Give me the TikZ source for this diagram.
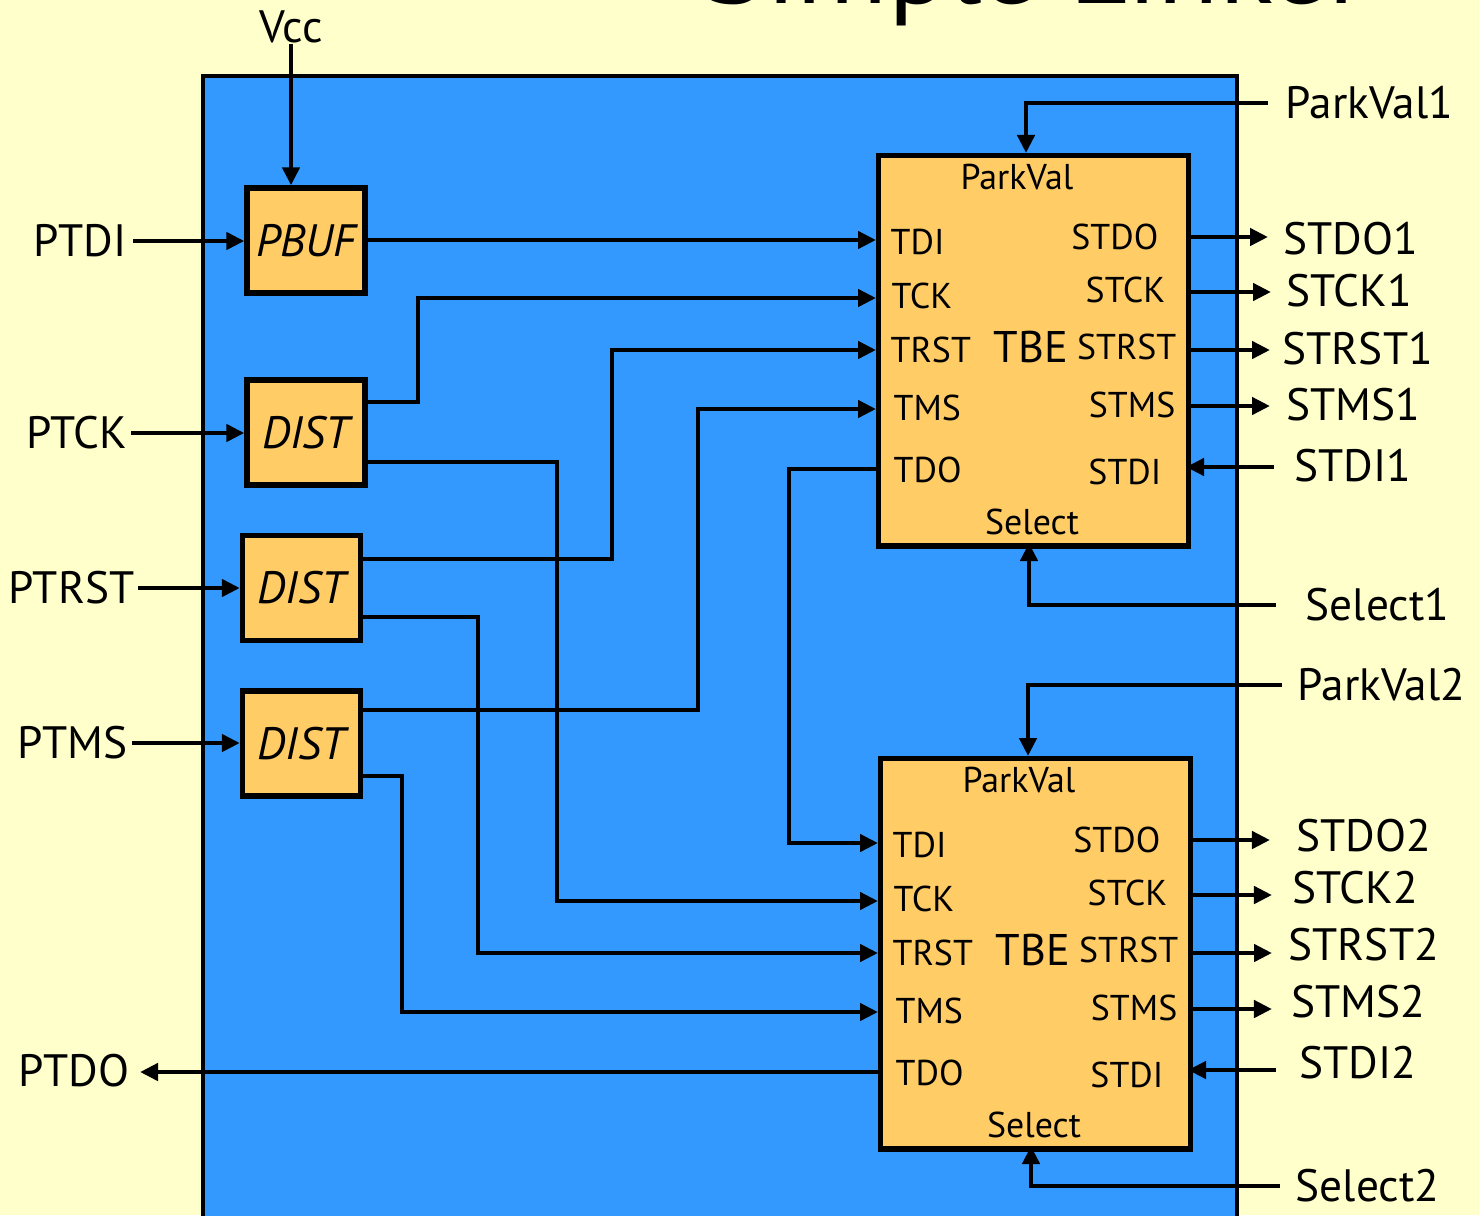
\documentclass[tikz,border=0pt]{standalone}
\usepackage{fontspec}
\setmainfont{PT Sans}
\usetikzlibrary{arrows.meta}
\definecolor{bgyel}{HTML}{FFFFCC}
\definecolor{chipblue}{HTML}{3399FF}
\definecolor{boxorg}{HTML}{FFCC66}
\newcommand{\lblfont}{\fontsize{12.9}{15}\selectfont}
\newcommand{\portfont}{\fontsize{10.2}{12}\selectfont}
\newcommand{\tbefont}{\fontsize{12.6}{15}\selectfont}
\newcommand{\ttlfont}{\fontsize{32}{38}\selectfont}
\tikzset{
  wire/.style={line width=1.25pt},
  wirearrow/.style={wire,-{Triangle[length=0.18cm,width=0.17cm]}},
  lbl/.style={font=\lblfont, inner sep=0pt},
  portlbl/.style={font=\portfont, inner sep=0pt},
  blk/.style={draw, fill=boxorg, line width=1.5pt, minimum width=1.18cm, minimum height=1.05cm, inner sep=0pt, font=\lblfont\itshape},
  tbebox/.style={draw, fill=boxorg, line width=1.5pt, minimum width=3.10cm, minimum height=3.90cm, inner sep=0pt},
  tbe/.pic={
    \node[tbebox, anchor=north west] (-box) at (0,0) {};
    \coordinate (-tdi) at (0,87);
    \coordinate (-tck) at (0,145);
    \coordinate (-trst) at (0,197);
    \coordinate (-tms) at (0,256);
    \coordinate (-tdo) at (0,316);
    \coordinate (-stdo) at (310,84);
    \coordinate (-stck) at (310,139);
    \coordinate (-strst) at (310,197);
    \coordinate (-stms) at (310,253);
    \coordinate (-stdi) at (310,314);
    \coordinate (-pv) at (150,0);
    \coordinate (-sel) at (153,390);
    \node[portlbl] (-lpv) at (141,24) {ParkVal};
    \node[portlbl, anchor=west] (-ltdi) at (14,89) {TDI};
    \node[portlbl, anchor=west] (-ltck) at (15,143) {TCK};
    \node[portlbl, anchor=west] (-ltrst) at (14,197) {TRST};
    \node[portlbl, anchor=west] (-ltms) at (17,255) {TMS};
    \node[portlbl, anchor=west] (-ltdo) at (17,317) {TDO};
    \node[portlbl, anchor=east] (-lstdo) at (283,84) {STDO};
    \node[portlbl, anchor=east] (-lstck) at (290,137) {STCK};
    \node[portlbl, anchor=east] (-lstrst) at (301,194) {STRST};
    \node[portlbl, anchor=east] (-lstms) at (300,252) {STMS};
    \node[portlbl, anchor=east] (-lstdi) at (286,319) {STDI};
    \node[portlbl] (-lsel) at (156,369) {Select};
    \node[font=\tbefont, inner sep=0pt] (-ltbe) at (155,194) {TBE};
  }
}
\begin{document}
\begin{tikzpicture}[x=0.01cm, y=-0.01cm]
\clip (0,0) rectangle (1479,1215);
\fill[bgyel] (0,0) rectangle (1479,1215);
\node[font=\ttlfont, anchor=base, inner sep=0pt] (title) at (1037,4) {Simple Linker};
\draw[fill=chipblue, line width=1.4pt] (203,76) rectangle (1237,1260);

% buffers
\node[blk] (pbuf) at (306,240.5) {PBUF};
\node[blk] (dist1) at (306,432.5) {DIST};
\node[blk] (dist2) at (301.5,588) {DIST};
\node[blk] (dist3) at (301.5,743.5) {DIST};

% TBE blocks
\pic (t1) at (876,153) {tbe};
\pic (t2) at (878,756) {tbe};

% left labels
\node[lbl] (vcc) at (291,27) {Vcc};
\node[lbl, anchor=east] (ptdi) at (127,241) {PTDI};
\node[lbl, anchor=east] (ptck) at (128,433) {PTCK};
\node[lbl, anchor=east] (ptrst) at (135,588) {PTRST};
\node[lbl, anchor=east] (ptms) at (128,743) {PTMS};
\node[lbl, anchor=east] (ptdo) at (130,1071) {PTDO};

% right labels
\node[lbl, anchor=west] (pv1) at (1285,103) {ParkVal1};
\node[lbl, anchor=west] (stdo1) at (1283,239) {STDO1};
\node[lbl, anchor=west] (stck1) at (1286,291) {STCK1};
\node[lbl, anchor=west] (strst1) at (1282,349) {STRST1};
\node[lbl, anchor=west] (stms1) at (1286,405) {STMS1};
\node[lbl, anchor=west] (stdi1) at (1294,466) {STDI1};
\node[lbl, anchor=west] (sel1) at (1305,605) {Select1};
\node[lbl, anchor=west] (pv2) at (1297,685) {ParkVal2};
\node[lbl, anchor=west] (stdo2) at (1296,836) {STDO2};
\node[lbl, anchor=west] (stck2) at (1292,888) {STCK2};
\node[lbl, anchor=west] (strst2) at (1288,945) {STRST2};
\node[lbl, anchor=west] (stms2) at (1291,1002) {STMS2};
\node[lbl, anchor=west] (stdi2) at (1299,1063) {STDI2};
\node[lbl, anchor=west] (sel2) at (1295,1186) {Select2};

% inputs
\draw[wirearrow] (vcc.south) -- (vcc.south |- pbuf.north);
\draw[wirearrow, shorten <=0.06cm] (ptdi.east) -- (ptdi.east -| pbuf.west);
\draw[wirearrow, shorten <=0.03cm] (ptck.east) -- (ptck.east -| dist1.west);
\draw[wirearrow, shorten <=0.03cm] (ptrst.east) -- (ptrst.east -| dist2.west);
\draw[wirearrow, shorten <=0.04cm] (ptms.east) -- (ptms.east -| dist3.west);

% internal wiring
\draw[wirearrow] (pbuf.east |- t1-tdi) -- (t1-tdi);
\draw[wirearrow] (dist1.east |- 0,402) -- (418,402) |- (t1-tck);
\draw[wirearrow] (dist1.east |- 0,462) -- (557,462) |- (t2-tck);
\draw[wirearrow] (dist2.east |- 0,559) -- (612,559) |- (t1-trst);
\draw[wirearrow] (dist2.east |- 0,617) -- (478,617) |- (t2-trst);
\draw[wirearrow] (dist3.east |- 0,710) -- (698,710) |- (t1-tms);
\draw[wirearrow] (dist3.east |- 0,776) -- (402,776) |- (t2-tms);
\draw[wirearrow] (t1-tdo) -- (t1-tdo -| 789,0) |- (t2-tdi);
\draw[wirearrow, shorten >=0.1cm] (t2-tdo) -- (t2-tdo -| ptdo.east);

% TBE1 outputs
\draw[wirearrow, shorten <=0.17cm] (pv1.west) -| (t1-pv);
\draw[wirearrow, shorten >=0.15cm] (t1-stdo) -- (t1-stdo -| stdo1.west);
\draw[wirearrow, shorten >=0.15cm] (t1-stck) -- (t1-stck -| stck1.west);
\draw[wirearrow, shorten >=0.12cm] (t1-strst) -- (t1-strst -| strst1.west);
\draw[wirearrow, shorten >=0.16cm] (t1-stms) -- (t1-stms -| stms1.west);
\draw[wirearrow, shorten <=0.20cm] (t1-stdi -| stdi1.west) -- (t1-stdi);
\draw[wirearrow, shorten <=0.29cm] (sel1.west) -| (t1-sel);

% TBE2 outputs
\draw[wirearrow, shorten <=0.15cm] (pv2.west) -| (t2-pv);
\draw[wirearrow, shorten >=0.26cm] (t2-stdo) -- (t2-stdo -| stdo2.west);
\draw[wirearrow, shorten >=0.20cm] (t2-stck) -- (t2-stck -| stck2.west);
\draw[wirearrow, shorten >=0.16cm] (t2-strst) -- (t2-strst -| strst2.west);
\draw[wirearrow, shorten >=0.19cm] (t2-stms) -- (t2-stms -| stms2.west);
\draw[wirearrow, shorten <=0.23cm] (t2-stdi -| stdi2.west) -- (t2-stdi);
\draw[wirearrow, shorten <=0.15cm] (sel2.west) -| (t2-sel);
\end{tikzpicture}
\end{document}
